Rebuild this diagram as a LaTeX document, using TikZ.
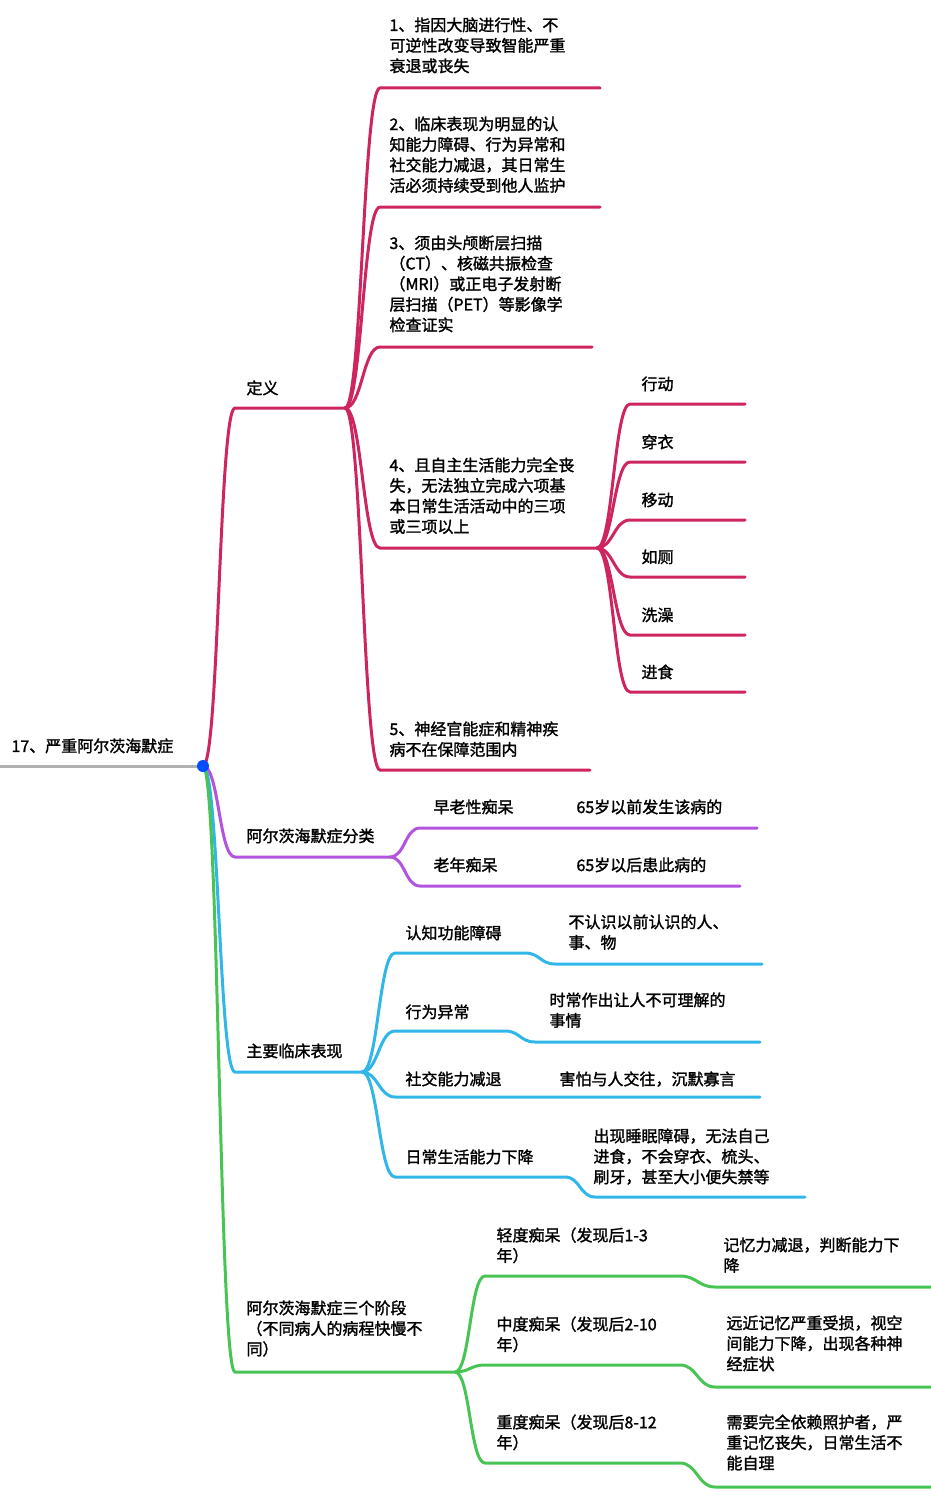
\documentclass[tikz,border=0pt]{standalone}
\usepackage{fontspec}
\newfontfamily\cjk[AutoFakeBold=1.6]{Noto Sans CJK SC}
\definecolor{defc}{RGB}{206,36,96}
\definecolor{clsc}{RGB}{178,84,222}
\definecolor{symc}{RGB}{48,182,232}
\definecolor{stgc}{RGB}{72,196,84}
\begin{document}
\begin{tikzpicture}[x=1pt,y=-1pt,line width=3pt,line cap=round]
	\tikzset{lbl/.style = {anchor=north west,inner sep=0,align=left,text=black,font=\cjk\bfseries\fontsize{16}{20.5}\selectfont}}
	\tikzset{br/.style = {to path={.. controls +(#1,0) and +(-#1,0) .. (\tikztotarget)}}}
	\useasboundingbox (0,0) rectangle (931,1501);
	
	% root
	\coordinate (r0) at (0,766);
	\coordinate (r) at (203,766);
	\node[lbl] (root) at (10,737) {17、严重阿尔茨海默症};
	\draw[gray!60] (r0) -- (r);
	
	% definition
	\begin{scope}[defc]
	\coordinate (d0) at (235,408); \coordinate (d1) at (345,408);
	\node[lbl] (def) at (245,379) {定义};
	\draw (r) to[br=16] (d0) -- (d1);
	\foreach \n/\y/\e in {a/88/600,b/207/600,c/347/592,d/548/597,e/770/590}{
		\coordinate (d\n s) at (380,\y); \coordinate (d\n e) at (\e,\y);
		\draw (d1) to[br=17] (d\n s) -- (d\n e);
	}
	\node[lbl] (da) at (388,16) {1、指因大脑进行性、不\\可逆性改变导致智能严重\\衰退或丧失};
	\node[lbl] (db) at (388,115) {2、临床表现为明显的认\\知能力障碍、行为异常和\\社交能力减退，其日常生\\活必须持续受到他人监护};
	\node[lbl] (dc) at (388,234) {3、须由头颅断层扫描\\（CT）、核磁共振检查\\（MRI）或正电子发射断\\层扫描（PET）等影像学\\检查证实};
	\node[lbl] (dd) at (388,456) {4、且自主生活能力完全丧\\失，无法独立完成六项基\\本日常生活活动中的三项\\或三项以上};
	\node[lbl] (de) at (388,720) {5、神经官能症和精神疾\\病不在保障范围内};
	\foreach \t/\y [count=\i] in {行动/404,穿衣/462,移动/520,如厕/577,洗澡/635,进食/692}{
		\coordinate (a\i s) at (630,\y); \coordinate (a\i e) at (745,\y);
		\draw (dde) to[br=16] (a\i s) -- (a\i e);
		\node[lbl] (act\i) at (640,\y-29) {\t};
	}
	\end{scope}
	
	% classification
	\begin{scope}[clsc]
	\coordinate (c0) at (235,857); \coordinate (c1) at (390,857);
	\node[lbl] (cls) at (245,827) {阿尔茨海默症分类};
	\draw (r) to[br=16] (c0) -- (c1);
	\coordinate (ca s) at (420,828); \coordinate (ca e) at (757,828);
	\coordinate (cb s) at (420,886); \coordinate (cb e) at (740,886);
	\draw (c1) to[br=15] (ca s) -- (ca e);
	\draw (c1) to[br=15] (cb s) -- (cb e);
	\node[lbl] (ca) at (432,798) {早老性痴呆};
	\node[lbl] (cad) at (575,798) {65岁以前发生该病的};
	\node[lbl] (cb) at (432,856) {老年痴呆};
	\node[lbl] (cbd) at (575,856) {65岁以后患此病的};
	\end{scope}
	
	% symptoms
	\begin{scope}[symc]
	\coordinate (s0) at (235,1072); \coordinate (s1) at (362,1072);
	\node[lbl] (sym) at (245,1042) {主要临床表现};
	\draw (r) to[br=16] (s0) -- (s1);
	\foreach \n/\y/\m/\z/\e in {a/953/525/964/762,b/1031/505/1042/760,c/1097/545/1097/760,d/1177/565/1197/805}{
		\coordinate (s\n s) at (395,\y); \coordinate (s\n m) at (\m,\y);
		\coordinate (s\n k) at (\m+30,\z); \coordinate (s\n e) at (\e,\z);
		\draw (s1) to[br=16] (s\n s) -- (s\n m) to[br=15] (s\n k) -- (s\n e);
	}
	\node[lbl] (sa) at (404,924) {认知功能障碍};
	\node[lbl] (sad) at (567,913) {不认识以前认识的人、\\事、物};
	\node[lbl] (sb) at (404,1003) {行为异常};
	\node[lbl] (sbd) at (548,991) {时常作出让人不可理解的\\事情};
	\node[lbl] (sc) at (404,1070) {社交能力减退};
	\node[lbl] (scd) at (558,1070) {害怕与人交往，沉默寡言};
	\node[lbl] (sd) at (404,1148) {日常生活能力下降};
	\node[lbl] (sdd) at (592,1127) {出现睡眠障碍，无法自己\\进食，不会穿衣、梳头、\\刷牙，甚至大小便失禁等};
	\end{scope}
	
	% stages
	\begin{scope}[stgc]
	\coordinate (t0) at (235,1372); \coordinate (t1) at (455,1372);
	\node[lbl] (stg) at (245,1299) {阿尔茨海默症三个阶段\\（不同病人的病程快慢不\\同）};
	\draw (r) to[br=16] (t0) -- (t1);
	\foreach \n/\y/\z in {a/1276/1287,b/1365/1387,c/1463/1487}{
		\coordinate (t\n s) at (485,\y); \coordinate (t\n m) at (680,\y);
		\coordinate (t\n k) at (715,\z); \coordinate (t\n e) at (931,\z);
		\draw (t1) to[br=15] (t\n s) -- (t\n m) to[br=17] (t\n k) -- (t\n e);
	}
	\node[lbl] (ta) at (495,1226) {轻度痴呆（发现后1-3\\年）};
	\node[lbl] (tad) at (722,1236) {记忆力减退，判断能力下\\降};
	\node[lbl] (tb) at (495,1315) {中度痴呆（发现后2-10\\年）};
	\node[lbl] (tbd) at (725,1314) {远近记忆严重受损，视空\\间能力下降，出现各种神\\经症状};
	\node[lbl] (tc) at (495,1413) {重度痴呆（发现后8-12\\年）};
	\node[lbl] (tcd) at (725,1413) {需要完全依赖照护者，严\\重记忆丧失，日常生活不\\能自理};
	\end{scope}
	
	\fill[blue!70!cyan] (r) circle (6);
\end{tikzpicture}
\end{document}
